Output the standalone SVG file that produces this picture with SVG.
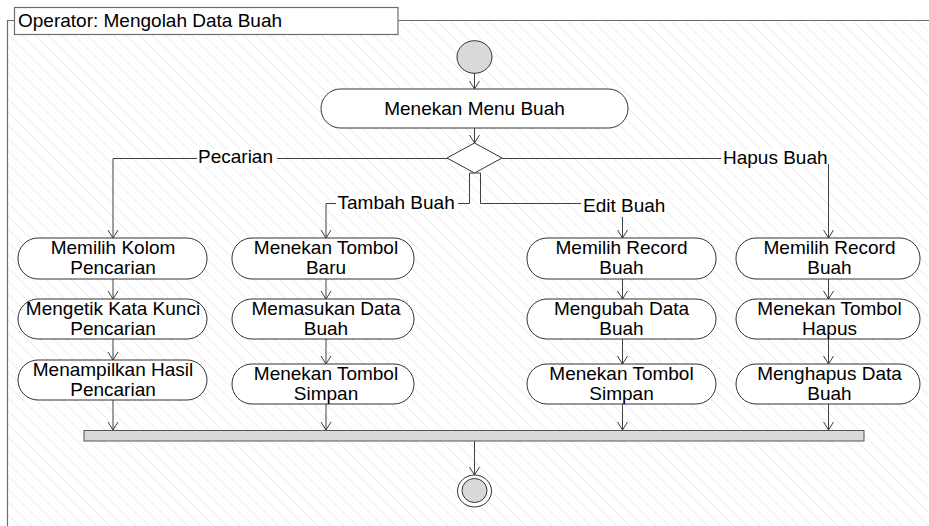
<svg xmlns="http://www.w3.org/2000/svg" width="929" height="526" viewBox="0 0 929 526">
<style>
text{font-family:"Liberation Sans",Arial,sans-serif;font-size:19px;fill:#000}
.node{fill:#fff;stroke:#333;stroke-width:1}
.c{fill:none;stroke:#404040;stroke-width:1;marker-end:url(#arr)}
.lbg{fill:#fff}
.mid{text-anchor:middle}
</style>
<defs>
<pattern id="hatch" patternUnits="userSpaceOnUse" width="13" height="13">
<path d="M0,0 L13,13 M-1,12 L1,14 M12,-1 L14,1" stroke="#e9e9e9" stroke-width="1"/>
</pattern>
<marker id="arr" markerUnits="userSpaceOnUse" markerWidth="12" markerHeight="12" refX="0" refY="0" viewBox="-10 -6 12 12" orient="auto" overflow="visible">
<path d="M-8,-5 L0,0 L-8,5" fill="none" stroke="#404040" stroke-width="1"/>
</marker>
</defs>
<rect x="0" y="0" width="929" height="526" fill="#fff"/>
<g id="frame">
<rect x="8" y="20.5" width="921" height="506" fill="url(#hatch)"/>
<path d="M7.5,526 V20.5 H929" fill="none" stroke="#6e6e6e" stroke-width="1.2"/>
<rect x="14.5" y="7.5" width="383.5" height="27" fill="#fff" stroke="#6e6e6e" stroke-width="1.2"/>
<text x="18" y="27">Operator: Mengolah Data Buah</text>
</g>
<g id="connectors">
<path class="c" d="M474.5,73 V89"/>
<path class="c" d="M474.5,128 V143"/>
<path class="c" d="M447,158.5 H113 V238"/>
<path class="c" d="M502,158.5 H828.5 V238"/>
<path class="c" d="M474.5,173 H469.5 V203.5 H326 V238"/>
<path class="c" d="M474.5,173 H480.5 V203.5 H622.5 V238"/>
<path class="c" d="M113,279 V299"/>
<path class="c" d="M113,339 V360"/>
<path class="c" d="M113,400 V430"/>
<path class="c" d="M326,279 V299"/>
<path class="c" d="M326,339 V364"/>
<path class="c" d="M326,404 V430"/>
<path class="c" d="M622.5,279 V299"/>
<path class="c" d="M622.5,339 V364"/>
<path class="c" d="M622.5,404 V430"/>
<path class="c" d="M828.5,279 V299"/>
<path class="c" d="M828.5,339 V364"/>
<path class="c" d="M828.5,404 V430"/>
<path class="c" d="M474.5,441 V475"/>
<rect class="lbg" x="197" y="149" width="80" height="17"/>
<text x="198" y="162.5">Pecarian</text>
<rect class="lbg" x="721" y="149" width="109" height="15"/>
<text x="723" y="164">Hapus Buah</text>
<rect class="lbg" x="336" y="193" width="122" height="18"/>
<text x="337.5" y="209">Tambah Buah</text>
<rect class="lbg" x="581" y="196" width="85" height="21"/>
<text x="583" y="211.5">Edit Buah</text>
</g>
<g id="start">
<ellipse cx="474.5" cy="57" rx="17.5" ry="16.3" fill="#d9d9d9" stroke="#333"/>
</g>
<g id="menu">
<rect class="node" x="321" y="89" width="307" height="39" rx="19.5" ry="19.5"/>
<text class="mid" x="474.5" y="115">Menekan Menu Buah</text>
</g>
<g id="decision">
<path d="M474.5,143 L502,158 L474.5,173 L447,158 Z" fill="#fff" stroke="#333"/>
</g>
<g id="n1a"><rect class="node" x="18" y="238" width="189" height="41" rx="20" ry="20"/><text class="mid" x="113" y="254">Memilih Kolom</text><text class="mid" x="113" y="274">Pencarian</text></g>
<g id="n1b"><rect class="node" x="18" y="299" width="189" height="40" rx="20" ry="20"/><text class="mid" x="113" y="315">Mengetik Kata Kunci</text><text class="mid" x="113" y="335">Pencarian</text></g>
<g id="n1c"><rect class="node" x="18" y="360" width="189" height="40" rx="20" ry="20"/><text class="mid" x="113" y="376">Menampilkan Hasil</text><text class="mid" x="113" y="396">Pencarian</text></g>
<g id="n2a"><rect class="node" x="232" y="238" width="182" height="41" rx="20" ry="20"/><text class="mid" x="326" y="254">Menekan Tombol</text><text class="mid" x="326" y="274">Baru</text></g>
<g id="n2b"><rect class="node" x="232" y="299" width="182" height="40" rx="20" ry="20"/><text class="mid" x="326" y="315">Memasukan Data</text><text class="mid" x="326" y="335">Buah</text></g>
<g id="n2c"><rect class="node" x="232" y="364" width="182" height="40" rx="20" ry="20"/><text class="mid" x="326" y="380">Menekan Tombol</text><text class="mid" x="326" y="400">Simpan</text></g>
<g id="n3a"><rect class="node" x="527" y="238" width="189" height="41" rx="20" ry="20"/><text class="mid" x="621.5" y="254">Memilih Record</text><text class="mid" x="621.5" y="274">Buah</text></g>
<g id="n3b"><rect class="node" x="527" y="299" width="189" height="40" rx="20" ry="20"/><text class="mid" x="621.5" y="315">Mengubah Data</text><text class="mid" x="621.5" y="335">Buah</text></g>
<g id="n3c"><rect class="node" x="527" y="364" width="189" height="40" rx="20" ry="20"/><text class="mid" x="621.5" y="380">Menekan Tombol</text><text class="mid" x="621.5" y="400">Simpan</text></g>
<g id="n4a"><rect class="node" x="736" y="238" width="184" height="41" rx="20" ry="20"/><text class="mid" x="829.5" y="254">Memilih Record</text><text class="mid" x="829.5" y="274">Buah</text></g>
<g id="n4b"><rect class="node" x="736" y="299" width="184" height="40" rx="20" ry="20"/><text class="mid" x="829.5" y="315">Menekan Tombol</text><text class="mid" x="829.5" y="335">Hapus</text></g>
<g id="n4c"><rect class="node" x="736" y="364" width="184" height="40" rx="20" ry="20"/><text class="mid" x="829.5" y="380">Menghapus Data</text><text class="mid" x="829.5" y="400">Buah</text></g>
<g id="join">
<rect x="84" y="430.5" width="780" height="10.5" fill="#d9d9d9" stroke="#555"/>
</g>
<g id="end">
<ellipse cx="474.5" cy="491" rx="17" ry="16" fill="#fff" stroke="#333"/>
<ellipse cx="474.5" cy="490.5" rx="12.5" ry="12" fill="#d9d9d9" stroke="#333"/>
</g>
</svg>
